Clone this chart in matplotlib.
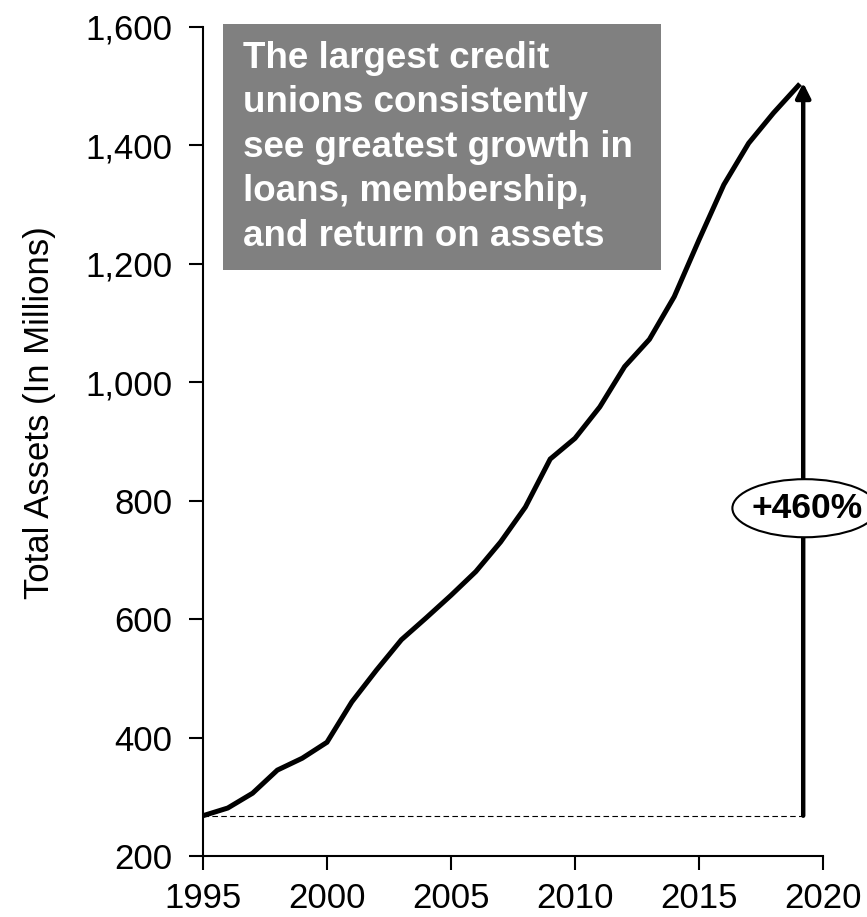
import matplotlib
matplotlib.use("Agg")
import matplotlib.pyplot as plt
from matplotlib.patches import Rectangle, Ellipse

plt.rcParams["font.family"] = ["Liberation Sans", "DejaVu Sans"]

# Total assets of the largest credit unions, in millions
years = list(range(1995, 2020))
assets = [268, 281, 306, 345, 365, 392, 460, 514, 565, 602,
          640, 680, 730, 789, 870, 905, 958, 1026, 1072, 1144,
          1240, 1333, 1403, 1454, 1500]

growth_label = "+460%"
note = ("The largest credit\nunions consistently\nsee greatest growth in\n"
        "loans, membership,\nand return on assets")

yticks = [200, 400, 600, 800, 1000, 1200, 1400, 1600]
xticks = [1995, 2000, 2005, 2010, 2015, 2020]

fig = plt.figure(figsize=(8.67, 9.17), dpi=100)
ax = fig.add_axes([0.2341, 0.0665, 0.7152, 0.9046])

ax.plot(years, assets, color="black", lw=3.6, solid_joinstyle="miter", zorder=3)

# baseline from the first year across to the arrow
x_arrow = 2019.2
ax.plot([years[0], x_arrow], [assets[0], assets[0]], color="black", lw=0.8,
        linestyle=(0, (5, 3)), zorder=2)
ax.annotate("", xy=(x_arrow, assets[-1] + 5), xytext=(x_arrow, assets[0]),
            arrowprops=dict(arrowstyle="-|>", color="black", lw=3.2,
                            mutation_scale=22, shrinkA=0, shrinkB=0),
            zorder=4)

ell = Ellipse((2019.27, 787), width=5.85, height=98, facecolor="white",
              edgecolor="black", lw=1.5, clip_on=False, zorder=5)
ax.add_patch(ell)
ax.text(2019.35, 787, growth_label, ha="center", va="center", fontsize=25.5,
        fontweight="bold", zorder=6, clip_on=False)

# grey call-out box
box = Rectangle((1995.8, 1189), 2013.47 - 1995.8, 1604 - 1189,
                facecolor="#808080", edgecolor="none", clip_on=False, zorder=1)
ax.add_patch(box)
ax.text(1996.6, 1576, note, ha="left", va="top", color="white",
        fontsize=26.5, fontweight="bold", linespacing=1.35, zorder=2)

ax.set_xlim(1995, 2020)
ax.set_ylim(200, 1600)
ax.set_xticks(xticks)
ax.set_yticks(yticks)
ax.set_yticklabels([f"{v:,}" for v in yticks])
ax.tick_params(axis="both", direction="out", length=10, width=1.5,
               labelsize=25, color="black")
ax.tick_params(axis="y", pad=12)
ax.tick_params(axis="x", pad=9)
for side in ("top", "right"):
    ax.spines[side].set_visible(False)
for side in ("left", "bottom"):
    ax.spines[side].set_linewidth(1.5)

ax.set_ylabel("Total Assets (In Millions)", fontsize=25)
ax.yaxis.set_label_coords(-0.237, 0.534)

fig.savefig("out.png", dpi=100)
